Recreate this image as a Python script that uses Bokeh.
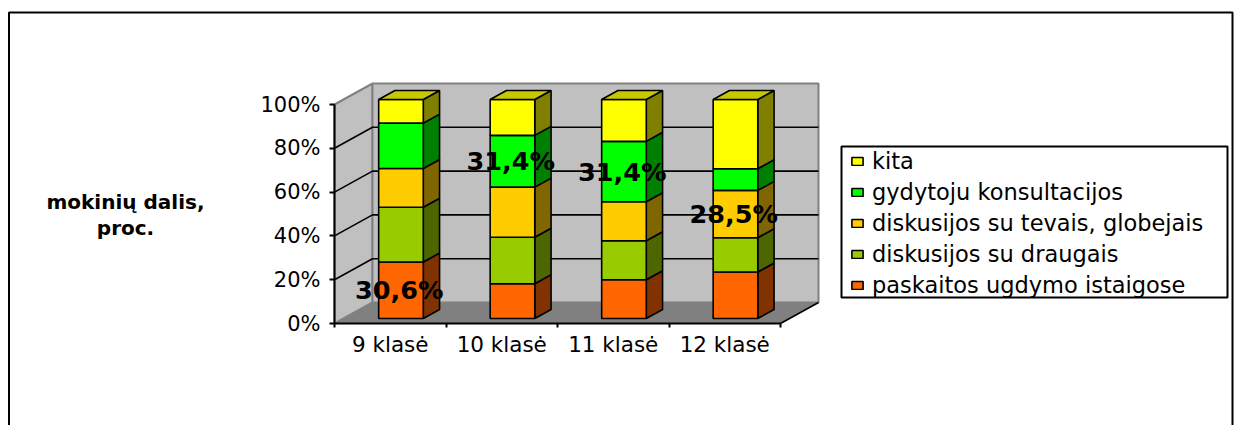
from bokeh.plotting import figure
from bokeh.embed import file_html
from bokeh.resources import INLINE
from bokeh.models import Legend, LegendItem, LinearAxis, FixedTicker, Range1d
from bokeh.core.properties import value

categories = ["9 klasė", "10 klasė", "11 klasė", "12 klasė"]
paskaitos = [25.8, 15.9, 17.7, 21.2]
draugais = [25.0, 21.2, 17.8, 15.7]
tevais = [17.7, 22.9, 17.8, 21.6]
gydytoju = [20.7, 23.6, 27.6, 9.9]
kita = [10.8, 16.4, 19.1, 31.6]
series = [paskaitos, draugais, tevais, gydytoju, kita]
series_names = ["paskaitos ugdymo istaigose", "diskusijos su draugais",
                "diskusijos su tevais, globejais", "gydytoju konsultacijos", "kita"]
front_colors = ["#FF6600", "#99CC00", "#FFCC00", "#00FF00", "#FFFF00"]
side_colors = ["#803300", "#4D6600", "#806600", "#008000", "#808000"]
top_color = "#C8C800"
data_labels = ["30,6%", "31,4%", "31,4%", "28,5%"]
data_label_series = [0, 3, 3, 2]
y_ticks = [0, 20, 40, 60, 80, 100]
y_tick_labels = ["0%", "20%", "40%", "60%", "80%", "100%"]
title_lines = ["mokinių dalis,", "proc."]

W, H = 1239, 425
X0, Y0 = 334, 323            # page pixel of the axis origin
PX_CAT, PX_PCT = 111.5, 2.19 # pixels per category and per percent
DX, DY = 38, 21              # depth of the 3D box, pixels
BAR_W = 0.40
BAR_FRONT, BAR_BACK = 0.238, 0.667
FONT = "DejaVu Sans"

def proj(c, v, d=0.0):
    return c + d * DX / PX_CAT, v + d * DY / PX_PCT

def page(px, py):
    return (px - X0) / PX_CAT, (Y0 - py) / PX_PCT

p = figure(width=W, height=H, output_backend="svg", toolbar_location=None,
           x_axis_location=None, y_axis_location=None,
           x_range=Range1d(page(0, 0)[0], page(W, 0)[0]),
           y_range=Range1d(page(0, H)[1], page(0, 0)[1]),
           min_border=0, outline_line_color=None, margin=(0, 0, 0, 0))
p.grid.visible = False

n = len(categories)

def poly(pts, fill, line, lw=1.0):
    xs, ys = zip(*pts)
    return p.patch(list(xs), list(ys), fill_color=fill, line_color=line, line_width=lw)

# walls and floor
poly([proj(0, 0, 0), proj(0, 100, 0), proj(0, 100, 1), proj(0, 0, 1)], "#C0C0C0", "#808080", 2)
poly([proj(0, 0, 1), proj(0, 100, 1), proj(n, 100, 1), proj(n, 0, 1)], "#C0C0C0", "#808080", 2)
poly([proj(0, 0, 0), proj(0, 0, 1), proj(n, 0, 1), proj(n, 0, 0)], "#808080", "#808080", 1)
for t in y_ticks[1:-1]:
    pts = [proj(0, t, 0), proj(0, t, 1), proj(n, t, 1)]
    p.line([a for a, _ in pts], [b for _, b in pts], line_color="#000000", line_width=1.6)
edge = [proj(n, 0, 0), proj(n, 0, 1)]
p.line([a for a, _ in edge], [b for _, b in edge], line_color="#000000", line_width=1.6)

# stacked 3D bars
legend_items = {}
for i in range(n):
    left = i + 0.515 - BAR_W / 2
    right = left + BAR_W
    base = 0.0
    for s, vals in enumerate(series):
        top = base + vals[i]
        poly([proj(right, base, BAR_FRONT), proj(right, top, BAR_FRONT),
              proj(right, top, BAR_BACK), proj(right, base, BAR_BACK)],
             side_colors[s], "#000000", 1.6)
        r = poly([proj(left, base, BAR_FRONT), proj(left, top, BAR_FRONT),
                  proj(right, top, BAR_FRONT), proj(right, base, BAR_FRONT)],
                 front_colors[s], "#000000", 1.6)
        legend_items.setdefault(s, r)
        base = top
    poly([proj(left, base, BAR_FRONT), proj(left, base, BAR_BACK),
          proj(right, base, BAR_BACK), proj(right, base, BAR_FRONT)],
         top_color, "#000000", 1.6)

# axes
yax = LinearAxis(ticker=FixedTicker(ticks=y_ticks), fixed_location=0, bounds=(0, 100),
                 major_label_overrides={t: l for t, l in zip(y_ticks, y_tick_labels)},
                 axis_line_color="#000000", axis_line_width=2,
                 major_tick_line_color="#000000", major_tick_line_width=2,
                 major_tick_out=5, major_tick_in=0, minor_tick_out=0, minor_tick_in=0,
                 major_label_text_font=FONT, major_label_text_font_size="21px",
                 major_label_text_color="#000000", major_label_standoff=9)
p.add_layout(yax, "left")
xax = LinearAxis(ticker=FixedTicker(ticks=list(range(n + 1))), fixed_location=0, bounds=(0, n),
                 major_label_text_font_size="0px", major_label_text_color=None,
                 axis_line_color="#000000", axis_line_width=2,
                 major_tick_line_color="#000000", major_tick_line_width=2,
                 major_tick_out=4, major_tick_in=0, minor_tick_out=0, minor_tick_in=0)
p.add_layout(xax, "below")
cat_pos = [i + 0.5 for i in range(n)]
xlab = LinearAxis(ticker=FixedTicker(ticks=cat_pos), fixed_location=0,
                  major_label_overrides={c: l for c, l in zip(cat_pos, categories)},
                  axis_line_color=None, major_tick_line_color=None,
                  minor_tick_out=0, minor_tick_in=0, major_tick_out=0, major_tick_in=0,
                  major_label_text_font=FONT, major_label_text_font_size="21.5px",
                  major_label_text_color="#000000", major_label_standoff=8)
p.add_layout(xlab, "below")

# data labels
lx, ly = [], []
for i, s in enumerate(data_label_series):
    base = sum(series[k][i] for k in range(s))
    a, b = proj(i + 0.5, base + series[s][i] / 2, BAR_FRONT)
    lx.append(a)
    ly.append(b)
p.text(lx, ly, text=data_labels, text_font=value(FONT), text_font_style="bold",
       text_font_size="25.5px", text_color="#000000", text_align="center", text_baseline="middle")

# side title
tx, ty = zip(page(125, 201), page(125, 227))
p.text(list(tx), list(ty), text=title_lines, text_font=value(FONT), text_font_style="bold",
       text_font_size="20px", text_color="#000000", text_align="center", text_baseline="middle")

# chart frame
fx, fy = zip(page(8.5, H), page(8.5, 12), page(1232, 12), page(1232, H))
p.line(list(fx), list(fy), line_color="#000000", line_width=2)

# legend box
poly([page(841, 146), page(1227, 146), page(1227, 297), page(841, 297)], "#FFFFFF", "#000000", 2)

legend = Legend(items=[LegendItem(label=series_names[s], renderers=[legend_items[s]])
                       for s in reversed(range(len(series)))],
                location=(850, H - 298), orientation="vertical",
                border_line_color=None, background_fill_alpha=0,
                label_text_font=FONT, label_text_font_size="22.5px", label_text_color="#000000",
                glyph_width=14, glyph_height=10, label_height=20, label_width=340,
                label_standoff=8, spacing=5, padding=9, margin=0)
p.add_layout(legend, "center")

open("out.html", "w").write(file_html(p, INLINE))
